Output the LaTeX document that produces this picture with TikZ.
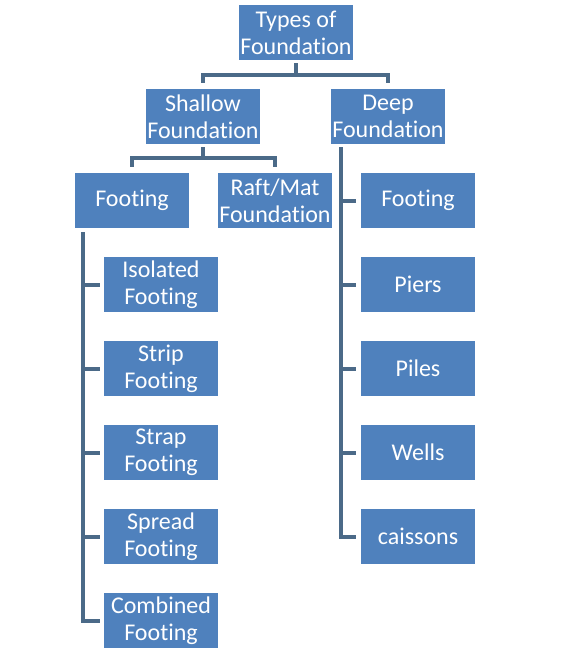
\documentclass[tikz,border=0pt]{standalone}
\usepackage{fontspec}
\setmainfont[Ligatures=NoCommon,RawFeature=-liga]{Carlito}
\usetikzlibrary{calc}
\definecolor{boxblue}{HTML}{4F81BD}
\definecolor{connc}{HTML}{4B6A88}
\tikzset{
  box/.style={rectangle, fill=boxblue, text=white, minimum width=114pt, minimum height=55pt,
    inner sep=0pt, align=center, font=\fontsize{24pt}{27pt}\selectfont},
  conn/.style={draw=connc, line width=4pt}
}
\begin{document}
\begin{tikzpicture}[x=1pt,y=1pt]
\useasboundingbox[fill=white] (0,0) rectangle (563,-662);
\node[box] (root) at (296,-32.5) {Types of\\Foundation};
\node[box] (shallow) at (203,-116.5) {Shallow\\Foundation};
\node[box] (deep) at (388,-116.5) {Deep\\Foundation};
\node[box] (footL) at (132,-200.5) {Footing};
\node[box] (raft) at (275,-200.5) {Raft/Mat\\Foundation};
\node[box] (footR) at (418,-200.5) {Footing};
\node[box] (iso) at (161,-284.5) {Isolated\\Footing};
\node[box] (strip) at (161,-368.5) {Strip\\Footing};
\node[box] (strap) at (161,-452.5) {Strap\\Footing};
\node[box] (spread) at (161,-536.5) {Spread\\Footing};
\node[box] (comb) at (161,-620.5) {Combined\\Footing};
\node[box] (piers) at (418,-284.5) {Piers};
\node[box] (piles) at (418,-368.5) {Piles};
\node[box] (wells) at (418,-452.5) {Wells};
\node[box] (cais) at (418,-536.5) {caissons};
% root to level 2
\draw[conn] ([yshift=-3pt]root.south) -- ([yshift=-15pt]root.south) coordinate (r1);
\draw[conn] ([yshift=6pt]shallow.north) |- (r1) -| ([yshift=6pt]deep.north);
% shallow to level 3
\draw[conn] ([yshift=-3pt]shallow.south) -- ([yshift=-14pt]shallow.south) coordinate (s1);
\draw[conn] ([yshift=6pt]footL.north) |- (s1) -| ([yshift=6pt]raft.north);
% deep column
\draw[conn] ($(deep.south west)+(10,-3)$) coordinate (d0) |- ([xshift=-5pt]cais.west);
\foreach \n in {footR,piers,piles,wells}
  \draw[conn] (d0 |- \n.west) -- ([xshift=-5pt]\n.west);
% footing column
\draw[conn] ($(footL.south west)+(8,-4)$) coordinate (f0) |- ([xshift=-4pt]comb.west);
\foreach \n in {iso,strip,strap,spread}
  \draw[conn] (f0 |- \n.west) -- ([xshift=-4pt]\n.west);
\end{tikzpicture}
\end{document}
